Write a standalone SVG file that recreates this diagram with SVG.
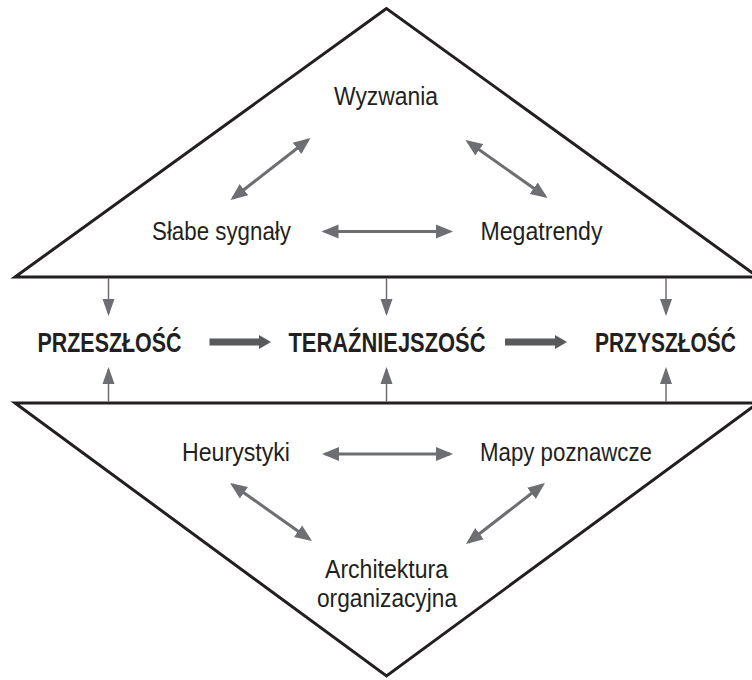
<svg xmlns="http://www.w3.org/2000/svg" width="752" height="680" viewBox="0 0 752 680">
<style>
.frame{fill:none;stroke:#231f20;stroke-width:3;stroke-linejoin:miter;stroke-miterlimit:10}
.lbl{font-family:"Liberation Sans",Arial,sans-serif;font-size:26px;fill:#231f20}
.big{font-family:"Liberation Sans",Arial,sans-serif;font-size:27px;font-weight:bold;fill:#231f20}
.dbl{stroke:#6d6e71;stroke-width:3;fill:none;marker-start:url(#hd);marker-end:url(#hd)}
.thin{stroke:#6d6e71;stroke-width:1.5;fill:none;marker-end:url(#ht)}
.thick{fill:#58595b}
</style>
<defs>
<marker id="hd" markerUnits="userSpaceOnUse" markerWidth="18" markerHeight="15" refX="14" refY="7" orient="auto-start-reverse" viewBox="0 0 18 14">
<path d="M0,0 L17,7 L0,14 Z" fill="#6d6e71"/>
</marker>
<marker id="ht" markerUnits="userSpaceOnUse" markerWidth="18" markerHeight="13" refX="15" refY="6" orient="auto" viewBox="0 0 18 12">
<path d="M0,0 L17,6 L0,12 Z" fill="#6d6e71"/>
</marker>
</defs>
<rect width="752" height="680" fill="#ffffff"/>

<g id="frames">
<polygon class="frame" points="386.5,8.5 15,277 758,277"/>
<polygon class="frame" points="15,403 758,403 386.5,676"/>
</g>

<g id="connectors">
<line class="dbl" x1="324.5" y1="231.5" x2="450" y2="231.5"/>
<line class="dbl" x1="232.9" y1="198.2" x2="308.1" y2="139.8"/>
<line class="dbl" x1="467.9" y1="141.7" x2="545.1" y2="196.3"/>
<line class="dbl" x1="325" y1="454" x2="450" y2="454"/>
<line class="dbl" x1="232.5" y1="484.7" x2="309.5" y2="539.3"/>
<line class="dbl" x1="542.6" y1="484.8" x2="468.4" y2="542.2"/>
<line class="thin" x1="108.5" y1="278" x2="108.5" y2="314"/>
<line class="thin" x1="386.5" y1="278" x2="386.5" y2="314"/>
<line class="thin" x1="666" y1="278" x2="666" y2="314"/>
<line class="thin" x1="108.5" y1="402" x2="108.5" y2="369"/>
<line class="thin" x1="386.5" y1="402" x2="386.5" y2="369"/>
<line class="thin" x1="666" y1="402" x2="666" y2="369"/>
<polygon class="thick" points="209.5,338.5 259,338.5 259,335 271,342 259,349 259,345.5 209.5,345.5"/>
<polygon class="thick" points="505,338.5 555,338.5 555,335 567,342 555,349 555,345.5 505,345.5"/>
</g>

<g id="wyzwania"><text class="lbl" x="334" y="105" textLength="104" lengthAdjust="spacingAndGlyphs">Wyzwania</text></g>
<g id="slabe-sygnaly"><text class="lbl" x="152" y="240" textLength="139" lengthAdjust="spacingAndGlyphs">Słabe sygnały</text></g>
<g id="megatrendy"><text class="lbl" x="480.5" y="240" textLength="122" lengthAdjust="spacingAndGlyphs">Megatrendy</text></g>

<g id="przeszlosc"><text class="big" x="37.5" y="351.5" textLength="144" lengthAdjust="spacingAndGlyphs">PRZESZŁOŚĆ</text></g>
<g id="terazniejszosc"><text class="big" x="288.5" y="351.5" textLength="197" lengthAdjust="spacingAndGlyphs">TERAŹNIEJSZOŚĆ</text></g>
<g id="przyszlosc"><text class="big" transform="translate(595,351.5) scale(0.777,1)" x="0" y="0">PRZYSZŁOŚĆ</text></g>

<g id="heurystyki"><text class="lbl" x="182" y="461" textLength="108" lengthAdjust="spacingAndGlyphs">Heurystyki</text></g>
<g id="mapy-poznawcze"><text class="lbl" x="480" y="461" textLength="172" lengthAdjust="spacingAndGlyphs">Mapy poznawcze</text></g>
<g id="architektura-organizacyjna">
<text class="lbl" x="325" y="578" textLength="123" lengthAdjust="spacingAndGlyphs">Architektura</text>
<text class="lbl" x="317" y="607" textLength="140" lengthAdjust="spacingAndGlyphs">organizacyjna</text>
</g>
</svg>
